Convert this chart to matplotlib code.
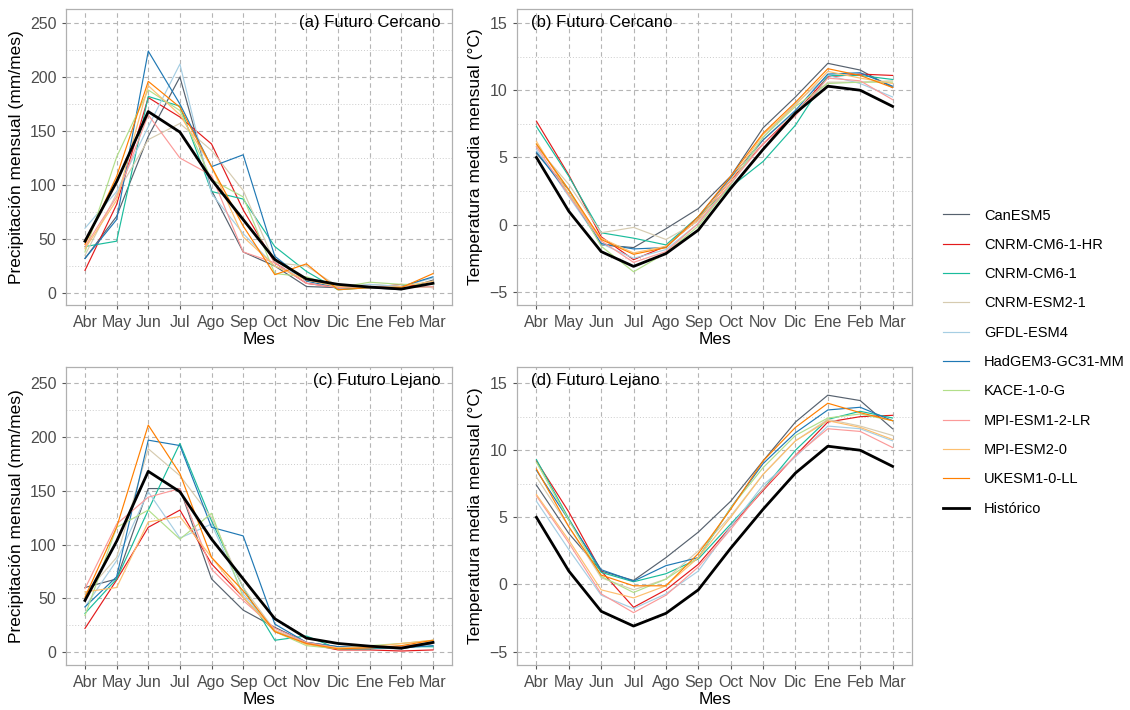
import matplotlib
matplotlib.use("Agg")
import matplotlib.pyplot as plt
from matplotlib.ticker import MultipleLocator

plt.rcParams["font.family"] = ["Liberation Sans", "DejaVu Sans"]

meses = ["Abr", "May", "Jun", "Jul", "Ago", "Sep", "Oct", "Nov", "Dic", "Ene", "Feb", "Mar"]

modelos = ["CanESM5", "CNRM-CM6-1-HR", "CNRM-CM6-1", "CNRM-ESM2-1", "GFDL-ESM4",
           "HadGEM3-GC31-MM", "KACE-1-0-G", "MPI-ESM1-2-LR", "MPI-ESM2-0", "UKESM1-0-LL"]
colores = ["#56616e", "#e31a1c", "#1abc9c", "#d6cbb0", "#a6cee3",
           "#1f78b4", "#b2df8a", "#fb9a99", "#fdbf6f", "#ff7f00"]

# Historico (igual en ambos periodos)
hist_pr = [48, 103, 168, 149, 105, 68, 31, 13, 8, 5.5, 3.7, 9]
hist_tas = [5.0, 1.0, -2.0, -3.1, -2.15, -0.4, 2.7, 5.6, 8.3, 10.3, 10.0, 8.8]

# (a) precipitacion futuro cercano
pr_cerc = [
    [32, 71, 145, 200, 95, 38, 25, 6, 5, 5, 3, 12],
    [21, 82, 181, 163, 138, 77, 28, 9, 5, 5, 8, 5],
    [43, 48, 182, 173, 94, 87, 43, 20, 3, 5, 5, 6],
    [35, 92, 142, 157, 132, 95, 28, 25, 6, 8, 6, 5],
    [60, 94, 154, 212, 92, 55, 25, 14, 5, 8, 6, 14],
    [32, 68, 224, 175, 117, 128, 34, 11, 5, 5, 6, 15],
    [38, 126, 188, 169, 105, 89, 18, 15, 5, 10, 8, 8],
    [43, 89, 165, 125, 109, 38, 28, 9, 5, 6, 5, 6],
    [41, 86, 192, 165, 117, 52, 25, 12, 6, 5, 6, 11],
    [45, 108, 196, 172, 117, 62, 17, 27, 3, 5, 5, 18],
]

# (b) temperatura futuro cercano
tas_cerc = [
    [5.3, 2.6, -1.5, -1.7, -0.3, 1.2, 3.6, 7.2, 9.5, 12.0, 11.5, 10.2],
    [7.7, 3.7, -0.9, -2.6, -1.6, 0.4, 3.3, 6.0, 8.3, 11.0, 11.2, 11.1],
    [7.3, 3.6, -0.6, -1.0, -1.5, 0.6, 2.8, 4.7, 7.4, 11.1, 11.1, 10.8],
    [5.8, 3.0, -0.6, -0.2, -1.1, 0.25, 3.0, 6.3, 8.4, 10.6, 10.6, 10.7],
    [5.6, 2.1, -1.4, -2.5, -1.85, 0.1, 3.0, 6.5, 9.0, 11.1, 10.5, 9.5],
    [5.4, 2.3, -1.4, -1.8, -1.7, 0.6, 3.5, 6.3, 8.5, 11.2, 11.3, 10.3],
    [6.0, 2.6, -1.6, -3.5, -2.1, -0.1, 3.0, 6.5, 8.8, 10.5, 10.6, 10.6],
    [5.8, 2.2, -1.2, -2.8, -2.0, 0.1, 3.1, 6.0, 8.1, 10.9, 10.7, 9.3],
    [6.2, 2.3, -1.0, -2.1, -1.6, 0.4, 3.3, 6.7, 8.9, 11.4, 10.9, 10.5],
    [6.0, 2.6, -1.1, -2.2, -1.7, 0.6, 3.6, 6.8, 9.1, 11.6, 11.1, 10.2],
]

# (c) precipitacion futuro lejano
pr_lej = [
    [60, 68, 152, 152, 68, 39, 23, 9, 5, 4, 3, 8],
    [22, 67, 116, 132, 82, 51, 19, 8, 2, 2, 1, 2],
    [36, 68, 132, 194, 122, 60, 11, 15, 3, 3, 5, 5],
    [54, 88, 189, 164, 125, 60, 20, 9, 4, 5, 5, 9],
    [42, 85, 149, 106, 119, 54, 20, 8, 4, 5, 5, 9],
    [42, 70, 197, 192, 116, 108, 26, 9, 5, 4, 4, 6],
    [34, 116, 132, 105, 129, 51, 19, 6, 3, 6, 8, 11],
    [59, 119, 144, 152, 77, 48, 22, 9, 4, 4, 5, 9],
    [56, 60, 121, 126, 88, 51, 20, 7, 4, 5, 8, 11],
    [51, 116, 211, 166, 88, 57, 19, 8, 3, 4, 6, 11],
]

# (d) temperatura futuro lejano
tas_lej = [
    [7.4, 3.8, 1.0, 0.3, 2.0, 3.9, 6.2, 9.2, 12.1, 14.1, 13.7, 11.6],
    [9.2, 5.4, 1.0, -1.7, -0.4, 1.5, 4.3, 7.0, 9.6, 12.1, 12.5, 12.6],
    [9.3, 4.9, 0.9, 0.2, 0.8, 1.9, 4.5, 7.1, 10.0, 12.3, 12.9, 12.4],
    [8.0, 4.3, 0.5, -0.4, 0.4, 2.5, 5.1, 8.2, 10.7, 12.3, 11.8, 11.1],
    [6.2, 2.6, -0.8, -1.8, -0.7, 1.0, 4.3, 7.4, 9.5, 11.8, 11.6, 10.7],
    [8.5, 4.8, 1.1, 0.25, 1.4, 2.0, 5.7, 9.0, 11.3, 13.0, 13.2, 12.2],
    [9.1, 4.8, 0.6, -0.6, 0.4, 2.0, 5.7, 8.7, 11.1, 12.4, 12.7, 12.2],
    [6.6, 3.1, -0.7, -2.1, -0.8, 1.3, 4.1, 7.1, 9.6, 11.6, 11.4, 10.2],
    [6.7, 3.3, -0.4, -1.0, -0.1, 2.0, 5.0, 8.2, 10.7, 12.2, 11.7, 10.8],
    [8.6, 4.3, 0.7, -0.1, -0.1, 2.3, 5.6, 9.2, 11.7, 13.5, 12.8, 12.2],
]

fig = plt.figure(figsize=(11.3, 7.1), dpi=100)
W, H = 1130, 710


def panel(left, top, right, bottom):
    return fig.add_axes([left / W, 1 - bottom / H, (right - left) / W, (bottom - top) / H])


axes = [
    (panel(66, 9, 452, 305), pr_cerc, hist_pr, "(a) Futuro Cercano", (-11.1, 263), 50,
     "Precipitación mensual (mm/mes)", "right"),
    (panel(517, 9, 912, 305), tas_cerc, hist_tas, "(b) Futuro Cercano", (-5.97, 16.04), 5,
     "Temperatura media mensual (°C)", "left"),
    (panel(66, 367, 452, 665), pr_lej, hist_pr, "(c) Futuro Lejano", (-12, 265), 50,
     "Precipitación mensual (mm/mes)", "right"),
    (panel(517, 367, 912, 665), tas_lej, hist_tas, "(d) Futuro Lejano", (-6.0, 16.2), 5,
     "Temperatura media mensual (°C)", "left"),
]

x = list(range(len(meses)))
for ax, datos, hist, titulo, ylim, paso, ylabel, lado in axes:
    for serie, nombre, color in zip(datos, modelos, colores):
        ax.plot(x, serie, color=color, lw=0.85, label=nombre)
    ax.plot(x, hist, color="black", lw=2.0, label="Histórico")

    ax.set_xlim(-0.6, 11.6)
    ax.set_ylim(*ylim)
    ax.set_xticks(x)
    ax.set_xticklabels(meses)
    ax.yaxis.set_major_locator(MultipleLocator(paso))
    ax.yaxis.set_minor_locator(MultipleLocator(paso / 2))
    ax.grid(which="major", color="#b5b5b5", ls=(0, (4, 3)), lw=0.8)
    ax.grid(which="minor", axis="y", color="#cccccc", ls=(0, (1, 2)), lw=0.7)
    ax.set_axisbelow(True)
    for s in ax.spines.values():
        s.set_color("#b0b0b0")
        s.set_linewidth(0.9)
    ax.tick_params(which="major", length=3, color="#555555", labelsize=11.5,
                   labelcolor="#4d4d4d", pad=4)
    ax.tick_params(which="minor", length=0)
    ax.set_xlabel("Mes", fontsize=12.5, color="black", labelpad=2)
    ax.set_ylabel(ylabel, fontsize=12.5, color="black", labelpad=4)

    if lado == "right":
        ax.text(0.97, 0.955, titulo, transform=ax.transAxes, ha="right", va="center",
                fontsize=12, color="black")
    else:
        ax.text(0.035, 0.955, titulo, transform=ax.transAxes, ha="left", va="center",
                fontsize=12, color="black")

handles, labels = axes[0][0].get_legend_handles_labels()
fig.legend(handles, labels, loc="center left", bbox_to_anchor=(0.823, 0.49),
           frameon=False, fontsize=10.5, handlelength=1.8, labelspacing=1.05,
           handletextpad=1.0)

fig.savefig("out.png", dpi=100)
